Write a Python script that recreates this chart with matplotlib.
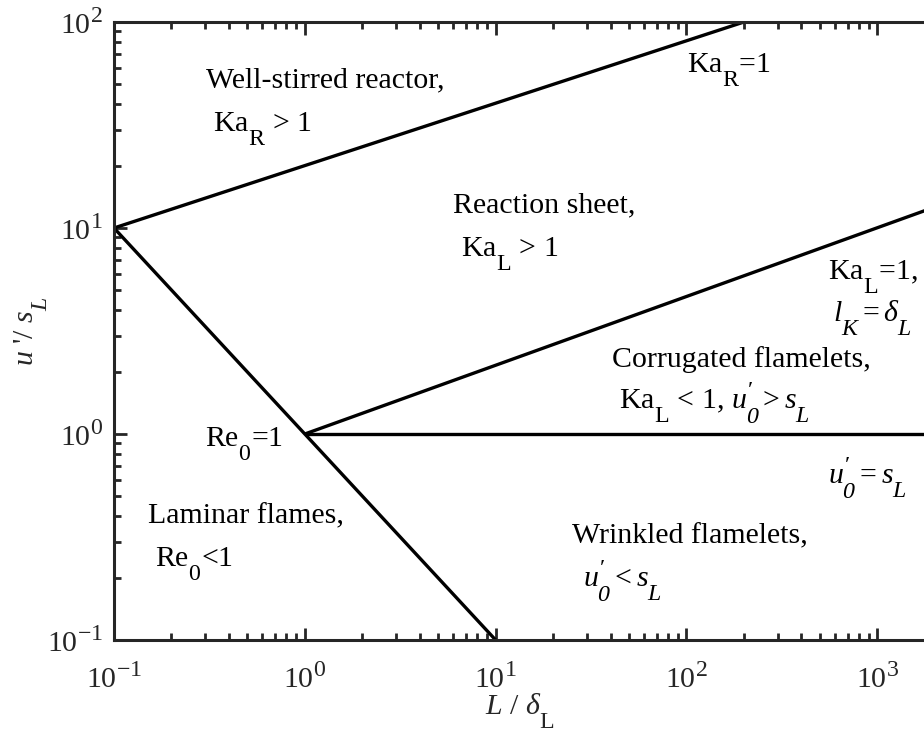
import matplotlib
matplotlib.use("Agg")
import matplotlib.pyplot as plt
import numpy as np
from matplotlib.ticker import LogLocator, LogFormatterMathtext, NullFormatter

try:
    import matplotlib._mathtext as _mt
    _mt.SHRINK_FACTOR = 0.8
    _mt.FontConstantsBase.sub1 = 1.0
    _mt.FontConstantsBase.sub2 = 1.1
    _mt.FontConstantsBase.sup1 = 0.8
except Exception:
    pass

plt.rcParams['font.family'] = ['Liberation Serif', 'DejaVu Serif']
plt.rcParams['mathtext.fontset'] = 'custom'
plt.rcParams['mathtext.rm'] = 'Liberation Serif'
plt.rcParams['mathtext.it'] = 'Liberation Serif:italic'
plt.rcParams['mathtext.bf'] = 'Liberation Serif:bold'
plt.rcParams['mathtext.cal'] = 'Liberation Serif:italic'  # italic digits

# ---- data (regime boundaries of the combustion diagram) ----
re_L = [0.1, 10.0]          # Re_0 = 1 boundary
re_u = [10.0, 0.1]
kar_L = [0.1, 200.0]        # Ka_R = 1 boundary
kar_u = [10.0, 100.0]
kal_L = [1.0, 1800.0]       # Ka_L = 1 boundary
kal_u = [1.0, 12.2]
us_L = [1.0, 1800.0]        # u'_0 = s_L boundary
us_u = [1.0, 1.0]

xlim = (0.1, 1800.0)
ylim = (0.1, 100.0)

W, H = 924, 738
fig = plt.figure(figsize=(W / 100, H / 100), dpi=100)
left, right, top, bottom = 114, 926, 22, 640
ax = fig.add_axes([left / W, 1 - bottom / H, (right - left) / W, (bottom - top) / H])

lc = 'black'
lw = 2.4
for xs, ys in [(re_L, re_u), (kar_L, kar_u), (kal_L, kal_u), (us_L, us_u)]:
    ax.plot(xs, ys, color=lc, lw=lw, solid_capstyle='butt', clip_on=True)

ax.set_xscale('log')
ax.set_yscale('log')
ax.set_xlim(*xlim)
ax.set_ylim(*ylim)

axc = '#262626'
for s in ax.spines.values():
    s.set_linewidth(2.2)
    s.set_color(axc)

fs = 21.5

ax.xaxis.set_major_locator(LogLocator(base=10, numticks=20))
ax.yaxis.set_major_locator(LogLocator(base=10, numticks=20))
ax.xaxis.set_minor_locator(LogLocator(base=10, subs=np.arange(2, 10), numticks=50))
ax.yaxis.set_minor_locator(LogLocator(base=10, subs=np.arange(2, 10), numticks=50))
ax.xaxis.set_minor_formatter(NullFormatter())
ax.yaxis.set_minor_formatter(NullFormatter())
ax.xaxis.set_major_formatter(LogFormatterMathtext())
ax.yaxis.set_major_formatter(LogFormatterMathtext())
ax.tick_params(which='both', direction='in', top=True, right=False, color=axc, width=2.0)
ax.tick_params(which='major', length=9, labelsize=fs, labelcolor=axc)
ax.tick_params(axis='x', which='major', pad=17)
ax.tick_params(axis='y', which='major', pad=8)
ax.tick_params(which='minor', length=5)

ax.set_xlabel(r'$L$ / $\delta_\mathrm{L}$', fontsize=fs, color=axc, labelpad=-2)
ax.set_ylabel(r"$u$ '/ $s_L$", fontsize=fs, color=axc, labelpad=-2)


def ptext(px, py, s):
    # py is the vertical centre of the main glyphs; convert to baseline
    fig.text(px / W, 1 - (py + 9) / H, s, ha='left', va='baseline',
             fontsize=fs, color='black')

ptext(206, 78, 'Well-stirred reactor,')
ptext(213, 122, r'Ka$_\mathrm{R}$ > 1')
ptext(687, 63, r'Ka$_\mathrm{R}$=1')
ptext(453, 203, 'Reaction sheet,')
ptext(461, 247, r'Ka$_\mathrm{L}$ > 1')
ptext(828, 270, r'Ka$_\mathrm{L}$=1,')
ptext(833, 312, r'$l_K = \delta_L$')
ptext(612, 358, 'Corrugated flamelets,')
ptext(619, 400, r'Ka$_\mathrm{L}$ < 1, $u^{\prime}_{\mathcal{0}} > s_L$')
ptext(828, 475, r'$u^{\prime}_{\mathcal{0}} = s_L$')
ptext(205, 437, r'Re$_\mathrm{0}$=1')
ptext(148, 514, 'Laminar flames,')
ptext(155, 557, r'Re$_\mathrm{0}$<1')
ptext(572, 534, 'Wrinkled flamelets,')
ptext(583, 578, r'$u^{\prime}_{\mathcal{0}} < s_L$')

fig.savefig('out.png', dpi=100)
